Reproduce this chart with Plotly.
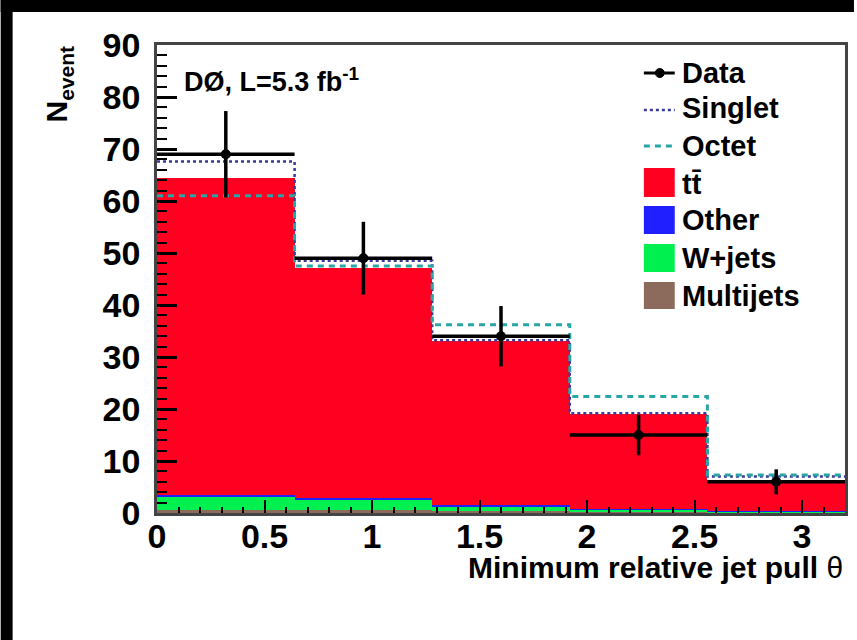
import plotly.graph_objects as go

# Histogram binning (minimum relative jet pull angle)
bin_edges = [0.0, 0.64, 1.28, 1.92, 2.56, 3.2]

# Observed events and their uncertainties
data_counts = [69, 49, 34, 15, 6]
data_errors = [8.3, 7.0, 5.8, 3.9, 2.4]

# Stacked background/signal components (bottom to top)
multijets = [0.6, 0.5, 0.4, 0.2, 0.1]
wjets = [2.6, 2.1, 0.9, 0.4, 0.15]
other = [0.3, 0.3, 0.25, 0.1, 0.05]
ttbar = [61.0, 44.2, 31.45, 18.3, 6.0]

# Colour-singlet and colour-octet hypotheses
singlet = [67.6, 48.5, 33.2, 19.2, 7.0]
octet = [61.0, 47.5, 36.2, 22.4, 7.3]

y_ticks = [0, 10, 20, 30, 40, 50, 60, 70, 80, 90]
x_ticks = [0, 0.5, 1, 1.5, 2, 2.5, 3]
x_tick_text = ["0", "0.5", "1", "1.5", "2", "2.5", "3"]

FONT = "Liberation Sans, Arial, Helvetica, sans-serif"
W, H = 857, 640
L, R, T, B = 157, 9, 45, 127
PW, PH = W - L - R, H - T - B

centers = [(a + b) / 2 for a, b in zip(bin_edges[:-1], bin_edges[1:])]
widths = [b - a for a, b in zip(bin_edges[:-1], bin_edges[1:])]
half_widths = [w / 2 for w in widths]


def px(xp):
    return (xp - L) / PW


def py(yp):
    return (H - B - yp) / PH


fig = go.Figure()

stack = [
    ("Multijets", multijets, "#8c6b5c"),
    ("W+jets", wjets, "#00f050"),
    ("Other", other, "#1f1fff"),
    ("tt\u0304", ttbar, "#ff0020"),
]
for name, vals, col in stack:
    fig.add_trace(go.Bar(
        x=centers, y=vals, width=widths, name=name,
        marker=dict(color=col, line=dict(width=0)),
        showlegend=False,
    ))

fig.add_trace(go.Scatter(
    x=bin_edges, y=singlet + [singlet[-1]], mode="lines", line_shape="hv",
    line=dict(color="#3a3a9a", width=2.5, dash="dot"), name="Singlet",
    showlegend=False,
))
fig.add_trace(go.Scatter(
    x=bin_edges, y=octet + [octet[-1]], mode="lines", line_shape="hv",
    line=dict(color="#2aa5a5", width=3, dash="6px,5px"), name="Octet",
    showlegend=False,
))
fig.add_trace(go.Scatter(
    x=centers, y=data_counts, mode="markers", name="Data",
    marker=dict(color="black", size=10),
    error_y=dict(type="data", array=data_errors, thickness=3.5, width=0, color="black"),
    error_x=dict(type="data", array=half_widths, thickness=3.5, width=0, color="black"),
    showlegend=False,
))

shapes = []
# outer frame strips
shapes.append(dict(type="rect", xref="paper", yref="paper", x0=px(0), x1=px(12),
                   y0=py(H), y1=py(0), fillcolor="black", line_width=0, layer="above"))
shapes.append(dict(type="rect", xref="paper", yref="paper", x0=px(0), x1=px(W),
                   y0=py(12), y1=py(0), fillcolor="black", line_width=0, layer="above"))

# legend
sx0, sx1 = px(646), px(677)
tx = px(682)
annotations = []
legend_rows = [
    ("Data", 73), ("Singlet", 108), ("Octet", 146),
    ("tt\u0304", 184), ("Other", 220), ("W+jets", 258), ("Multijets", 296),
]
shapes.append(dict(type="line", xref="paper", yref="paper", x0=sx0, x1=sx1,
                   y0=py(73), y1=py(73), line=dict(color="black", width=3)))
shapes.append(dict(type="circle", xref="paper", yref="paper",
                   x0=px(662 - 4.5), x1=px(662 + 4.5), y0=py(73 + 4.5), y1=py(73 - 4.5),
                   fillcolor="black", line=dict(color="black", width=1)))
shapes.append(dict(type="line", xref="paper", yref="paper", x0=sx0, x1=sx1,
                   y0=py(110), y1=py(110), line=dict(color="#3a3a9a", width=2.5, dash="dot")))
shapes.append(dict(type="line", xref="paper", yref="paper", x0=sx0, x1=sx1,
                   y0=py(146), y1=py(146), line=dict(color="#2aa5a5", width=3, dash="6px,5px")))
box_rows = [(168, 197, "#ff0020"), (206, 234, "#1f1fff"), (244, 272, "#00f050"), (282, 309, "#8c6b5c")]
for y0, y1, col in box_rows:
    shapes.append(dict(type="rect", xref="paper", yref="paper", x0=sx0, x1=sx1,
                       y0=py(y1), y1=py(y0), fillcolor=col, line_width=0))
for label, yc in legend_rows:
    annotations.append(dict(
        xref="paper", yref="paper", x=tx, y=py(yc), xanchor="left", yanchor="middle",
        text="<b>%s</b>" % label, showarrow=False,
        font=dict(family=FONT, size=29, color="black"),
    ))

annotations.append(dict(
    xref="paper", yref="paper", x=px(182), y=py(80), xanchor="left", yanchor="middle",
    text="<b>DØ, L=5.3 fb<sup>-1</sup></b>", showarrow=False,
    font=dict(family=FONT, size=27, color="black"),
))
annotations.append(dict(
    xref="paper", yref="paper", x=px(848), y=py(567), xanchor="right", yanchor="middle",
    text="<b>Minimum relative jet pull</b> θ", showarrow=False,
    font=dict(family=FONT, size=30, color="black"),
))
annotations.append(dict(
    xref="paper", yref="paper", x=px(58), y=py(84), xanchor="center", yanchor="middle",
    text="<b>N<sub>event</sub></b>", textangle=-90, showarrow=False,
    font=dict(family=FONT, size=30, color="black"),
))

fig.update_layout(
    width=W, height=H, autosize=False,
    margin=dict(l=L, r=R, t=T, b=B, pad=0),
    paper_bgcolor="white", plot_bgcolor="white",
    barmode="stack", bargap=0,
    shapes=shapes, annotations=annotations,
    showlegend=False,
)
fig.update_xaxes(
    range=[0, 3.2], tickvals=x_ticks, ticktext=x_tick_text,
    ticks="inside", ticklen=13, tickwidth=2, tickcolor="black",
    minor=dict(dtick=0.1, tick0=0, ticks="inside", ticklen=6, tickwidth=2, tickcolor="black"),
    showline=True, linecolor="#444", linewidth=2.5, mirror=True,
    showgrid=False, zeroline=False,
    tickfont=dict(family=FONT, size=34, color="black", weight="bold"),
    ticklabelstandoff=-9,
)
fig.update_yaxes(
    range=[0, 90], tickvals=y_ticks,
    ticks="inside", ticklen=20, tickwidth=2.5, tickcolor="black",
    minor=dict(dtick=2, tick0=0, ticks="inside", ticklen=10, tickwidth=2, tickcolor="black"),
    showline=True, linecolor="#444", linewidth=2.5, mirror=True,
    showgrid=False, zeroline=False,
    tickfont=dict(family=FONT, size=34, color="black", weight="bold"),
    ticklabelstandoff=7,
)

fig.write_html("out.html")
